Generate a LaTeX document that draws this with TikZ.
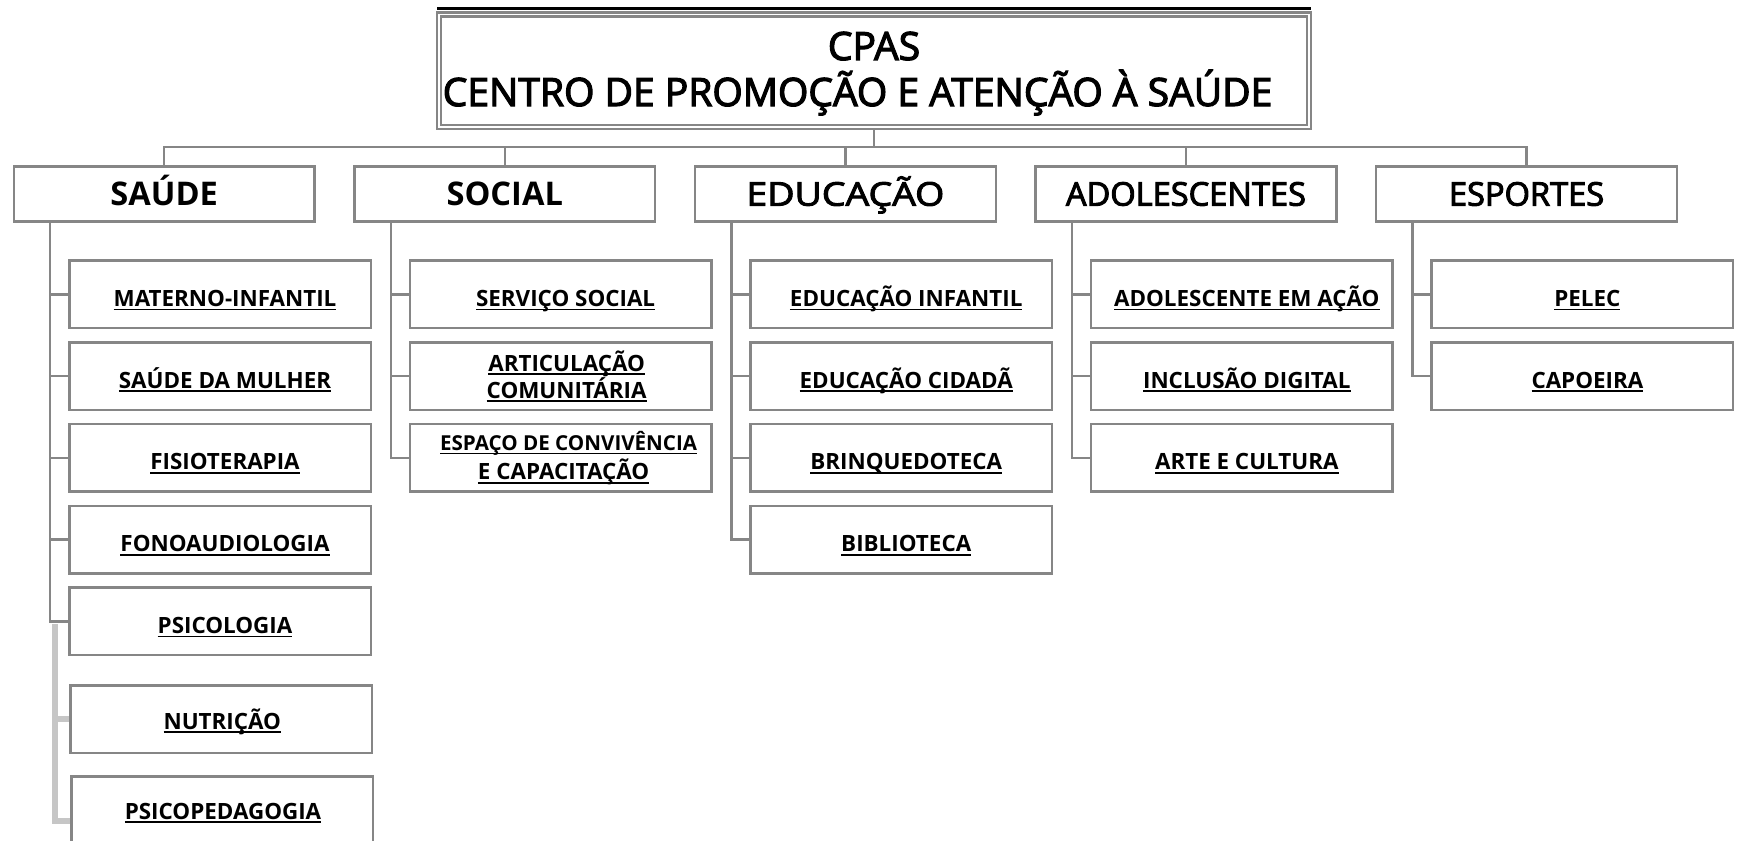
\documentclass[tikz,border=0pt]{standalone}
\usepackage{fontspec}
\setmainfont{Open Sans}
\newfontfamily\headfont[FakeBold=3]{Open Sans}
\newfontfamily\widefont[FakeBold=3,FakeStretch=1.15]{Open Sans}
\definecolor{linegray}{HTML}{868686}
\definecolor{palegray}{HTML}{C6C6C6}
\newsavebox{\ulsave}
\newcommand{\ulbox}[1]{\sbox{\ulsave}{#1}\rlap{\rule[-2pt]{\wd\ulsave}{0.85pt}}\usebox{\ulsave}}
\begin{document}
\begin{tikzpicture}[x=0.5pt, y=-0.5pt,
		box/.style={draw=linegray, line width=1.25pt, fill=white, inner sep=0pt, anchor=north west},
		catbox/.style={box, minimum width=150.4pt, minimum height=27.6pt, text height=11.8pt, text depth=0pt},
		subbox/.style={box, minimum width=150.75pt, minimum height=33.75pt},
		sublabel/.style={anchor=base, inner sep=0pt, font=\fontsize{11.2}{13}\selectfont\bfseries},
		conn/.style={draw=linegray, line width=1.25pt},
		pale/.style={draw=palegray, line width=3pt}]
	\useasboundingbox (0,0) rectangle (1738,840);
	\clip (0,0) rectangle (1738,840);
	% title
	\draw[black, line width=1.4pt] (437,8.7) -- (1311,8.7);
	\node[draw=linegray, double=white, line width=1.1pt, double distance=0.85pt, outer sep=1.5pt, minimum width=435pt, minimum height=56.25pt, inner sep=0pt] (cpas) at (874,70.75) {};
	\node[anchor=base, inner sep=0pt, font=\fontsize{19.5}{23}\selectfont\headfont] (sigla) at (874,60) {CPAS};
	\node[anchor=base, inner sep=0pt, font=\fontsize{19.5}{23}\selectfont\headfont] (nome) at (857.5,106) {CENTRO DE PROMOÇÃO E ATENÇÃO À SAÚDE};
	% areas
	\foreach \i/\name/\txt/\wt in {0/saude/SAÚDE/\bfseries, 1/social/SOCIAL/\bfseries, 2/educ/EDUCAÇÃO/\widefont, 3/adol/ADOLESCENTES/\headfont, 4/esp/ESPORTES/\headfont}{
		\node[catbox, font={\fontsize{16.3}{19}\selectfont\wt}] (\name) at (12.5+340.6*\i, 165) {\txt};
		\draw[conn] (cpas.south) -- ++(0,17) -| (\name.north);}
	% saude
	\foreach \k/\txt in {0/MATERNO-INFANTIL, 1/SAÚDE DA MULHER, 2/FISIOTERAPIA, 3/FONOAUDIOLOGIA, 4/PSICOLOGIA}{
		\node[subbox] (saude\k) at (68,259.3+81.75*\k) {};
		\node[sublabel] (t-saude\k) at ([shift={(5,47)}]saude\k.north) {\ulbox{\txt}};
		\draw[conn] (saude.south west) ++(37.7,0) |- (saude\k.west);}
	\node[subbox] (saude5) at (69.3,684.3) {};
	\node[sublabel] (t-saude5) at ([shift={(1,44.7)}]saude5.north) {\ulbox{NUTRIÇÃO}};
	\node[subbox] (saude6) at (70,775) {};
	\node[sublabel] (t-saude6) at ([shift={(1,44)}]saude6.north) {\ulbox{PSICOPEDAGOGIA}};
	\coordinate (palebend) at (55,624);
	\draw[pale] (palebend) |- (saude5.west);
	\draw[pale] (palebend) |- ([shift={(0,10.5)}]saude6.west);
	% social
	\foreach \k in {0,1,2}{
		\node[subbox] (social\k) at (408.6,259.3+81.75*\k) {};
		\draw[conn] (social.south west) ++(37.7,0) |- (social\k.west);}
	\node[sublabel] (t-social0) at ([shift={(5,47)}]social0.north) {\ulbox{SERVIÇO SOCIAL}};
	\node[sublabel] (t-social1a) at ([shift={(6,30)}]social1.north) {\ulbox{ARTICULAÇÃO}};
	\node[sublabel] (t-social1b) at ([shift={(6,57)}]social1.north) {\ulbox{COMUNITÁRIA}};
	\node[sublabel, font=\fontsize{10.3}{12}\selectfont\bfseries] (t-social2a) at ([shift={(8,27.5)}]social2.north) {\ulbox{ESPAÇO DE CONVIVÊNCIA}};
	\node[sublabel] (t-social2b) at ([shift={(3,57)}]social2.north) {\ulbox{E CAPACITAÇÃO}};
	% educacao
	\foreach \k/\txt in {0/EDUCAÇÃO INFANTIL, 1/EDUCAÇÃO CIDADÃ, 2/BRINQUEDOTECA, 3/BIBLIOTECA}{
		\node[subbox] (educ\k) at (749.2,259.3+81.75*\k) {};
		\node[sublabel] (t-educ\k) at ([shift={(5,47)}]educ\k.north) {\ulbox{\txt}};
		\draw[conn] (educ.south west) ++(37.7,0) |- (educ\k.west);}
	% adolescentes
	\foreach \k/\txt in {0/ADOLESCENTE EM AÇÃO, 1/INCLUSÃO DIGITAL, 2/ARTE E CULTURA}{
		\node[subbox] (adol\k) at (1089.8,259.3+81.75*\k) {};
		\node[sublabel] (t-adol\k) at ([shift={(5,47)}]adol\k.north) {\ulbox{\txt}};
		\draw[conn] (adol.south west) ++(37.7,0) |- (adol\k.west);}
	% esportes
	\foreach \k/\txt in {0/PELEC, 1/CAPOEIRA}{
		\node[subbox] (esp\k) at (1430.4,259.3+81.75*\k) {};
		\node[sublabel] (t-esp\k) at ([shift={(5,47)}]esp\k.north) {\ulbox{\txt}};
		\draw[conn] (esp.south west) ++(37.7,0) |- (esp\k.west);}
\end{tikzpicture}
\end{document}
